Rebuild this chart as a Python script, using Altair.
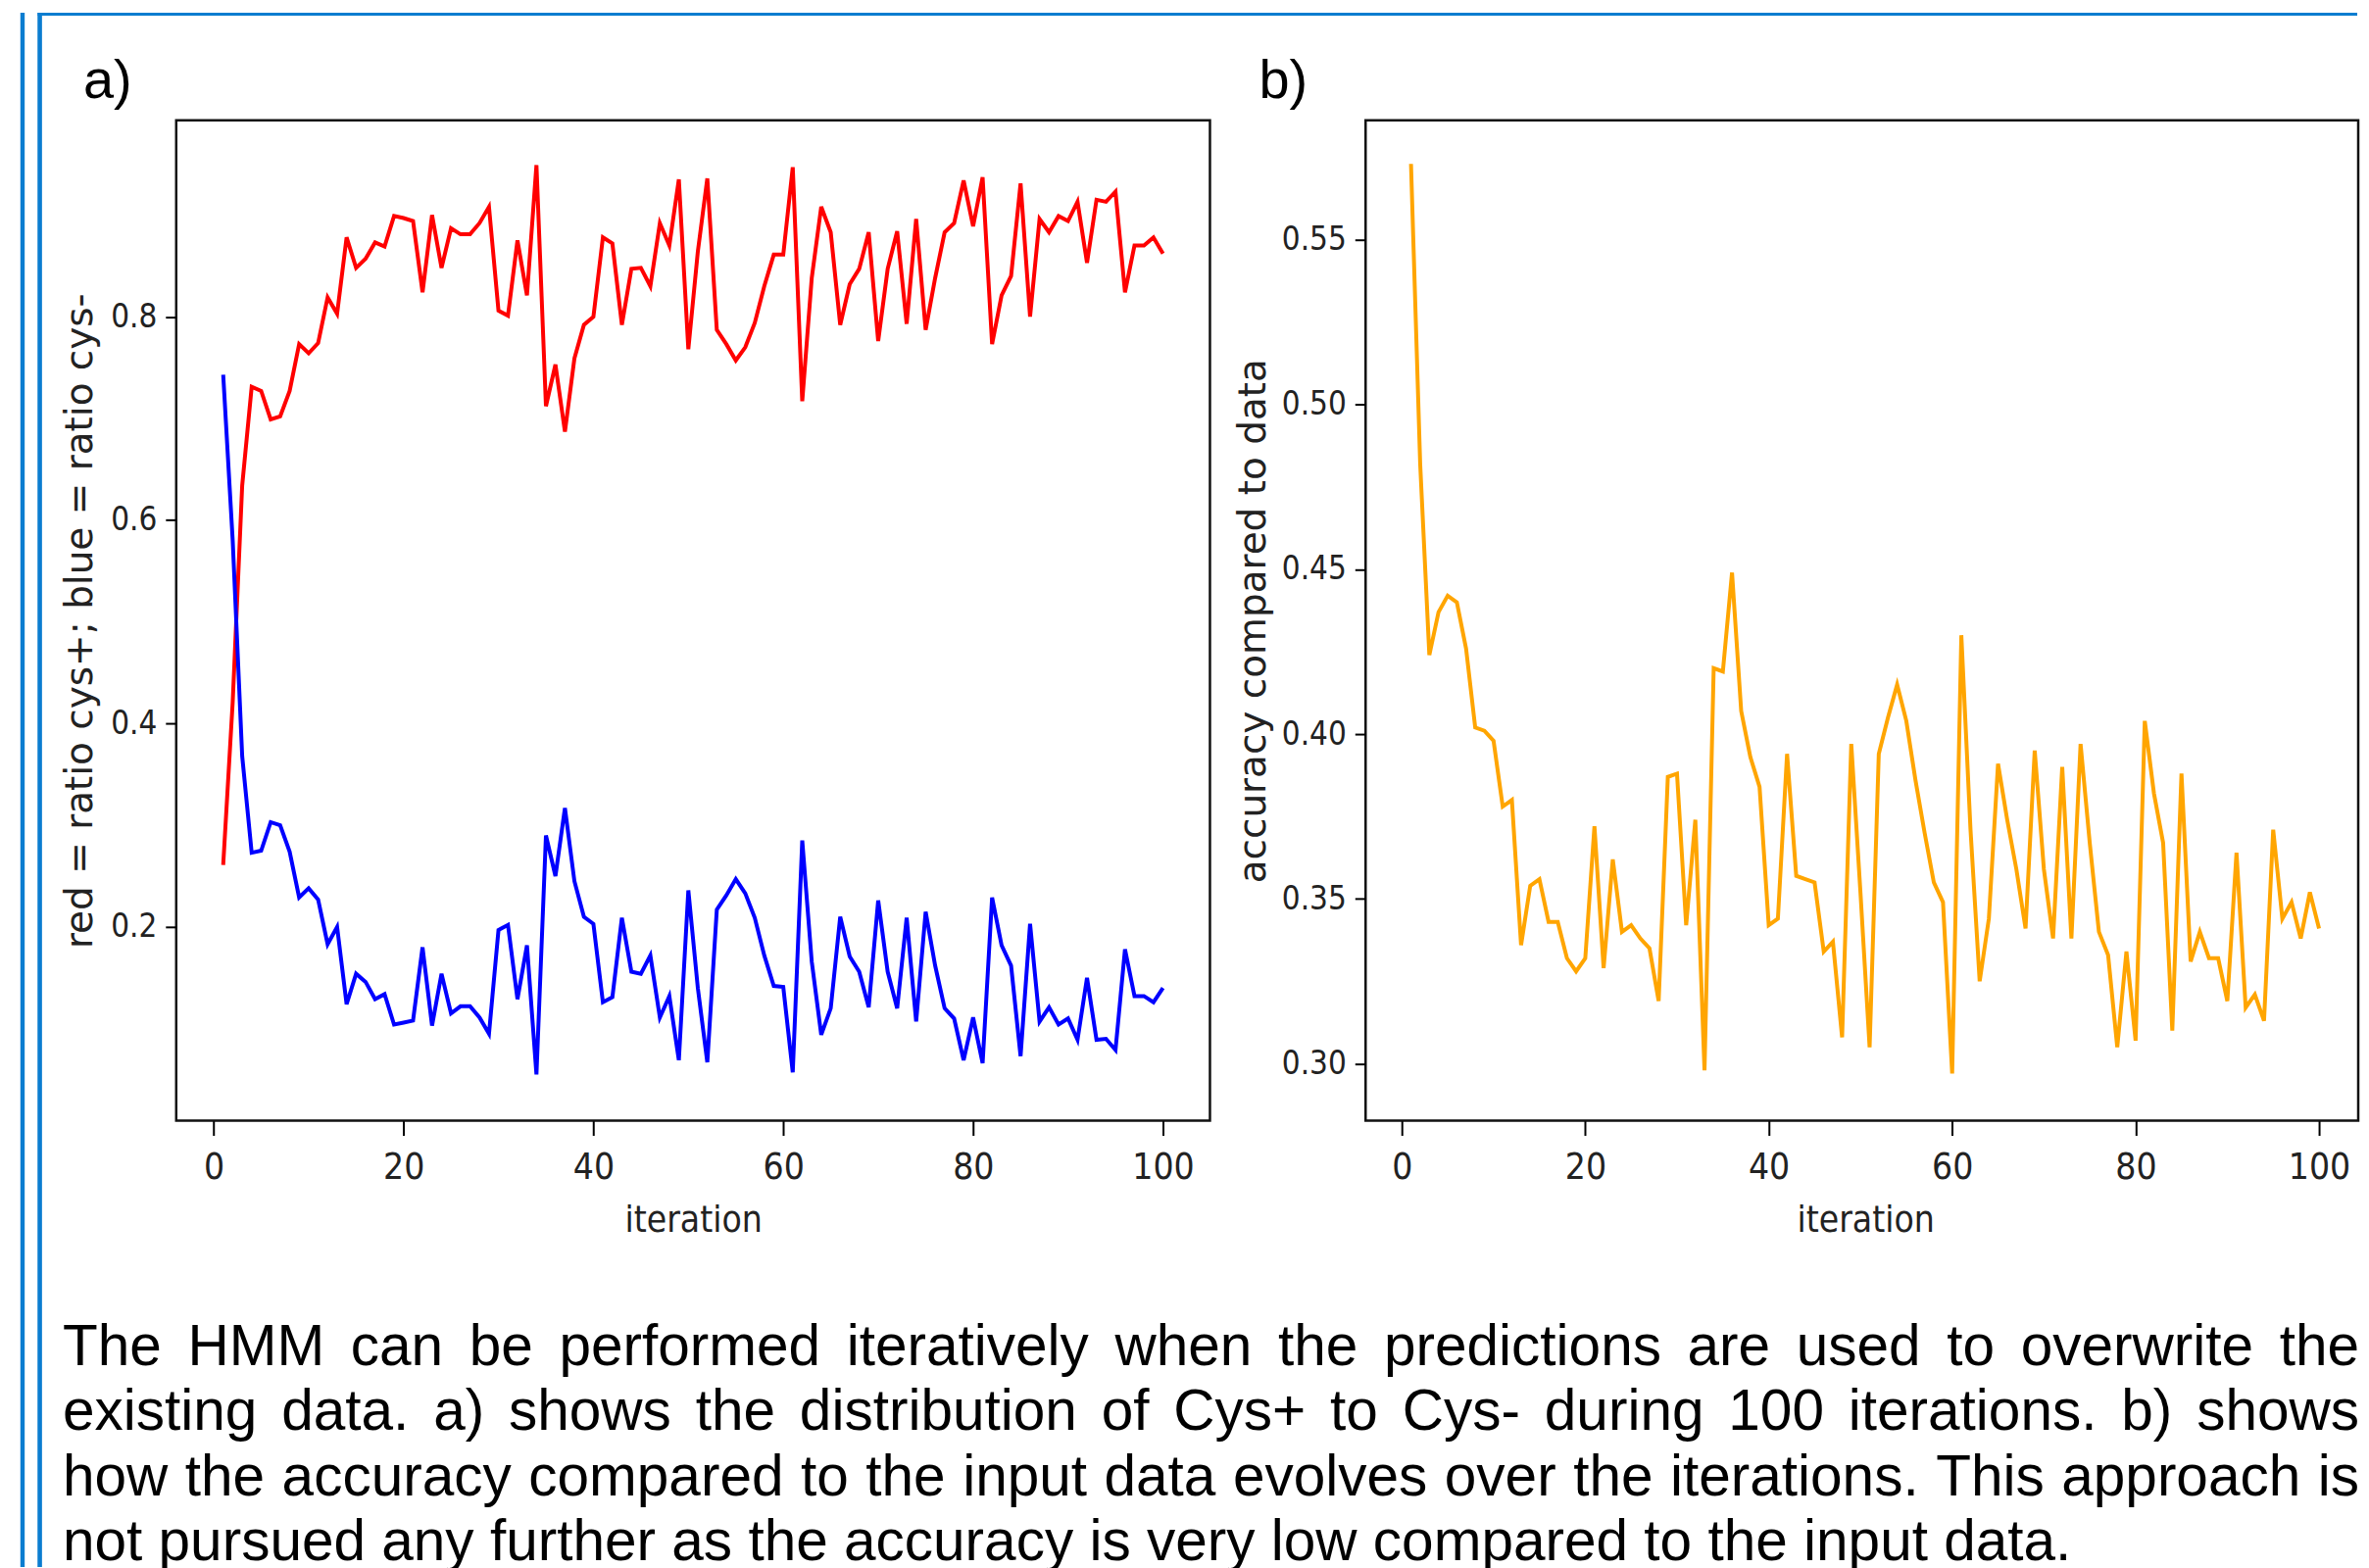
import altair as alt
import pandas as pd

# ---------------- data ----------------
iterations = list(range(1, 101))

red_cys_plus = [
    0.261, 0.421, 0.634, 0.731, 0.727, 0.699, 0.702, 0.727, 0.773, 0.764,
    0.774, 0.819, 0.803, 0.878, 0.848, 0.857, 0.873, 0.869, 0.899, 0.897,
    0.894, 0.824, 0.900, 0.848, 0.887, 0.881, 0.881, 0.892, 0.908, 0.806,
    0.801, 0.875, 0.821, 0.949, 0.712, 0.753, 0.687, 0.759, 0.792, 0.800,
    0.878, 0.872, 0.792, 0.847, 0.848, 0.830, 0.892, 0.870, 0.935, 0.768,
    0.864, 0.936, 0.787, 0.773, 0.757, 0.770, 0.794, 0.830, 0.861, 0.861,
    0.947, 0.717, 0.838, 0.908, 0.883, 0.792, 0.832, 0.847, 0.883, 0.776,
    0.847, 0.884, 0.793, 0.896, 0.787, 0.838, 0.883, 0.892, 0.934, 0.889,
    0.937, 0.773, 0.821, 0.840, 0.931, 0.800, 0.896, 0.883, 0.899, 0.894,
    0.913, 0.853, 0.915, 0.913, 0.923, 0.824, 0.870, 0.870, 0.878, 0.862,
]

blue_cys_minus = [
    0.743, 0.580, 0.368, 0.273, 0.275, 0.303, 0.300, 0.274, 0.229, 0.238,
    0.227, 0.183, 0.200, 0.124, 0.154, 0.146, 0.129, 0.134, 0.104, 0.106,
    0.108, 0.180, 0.103, 0.154, 0.115, 0.122, 0.122, 0.111, 0.095, 0.197,
    0.202, 0.129, 0.182, 0.055, 0.290, 0.250, 0.317, 0.245, 0.210, 0.203,
    0.126, 0.131, 0.209, 0.156, 0.154, 0.172, 0.111, 0.132, 0.069, 0.236,
    0.140, 0.067, 0.217, 0.231, 0.247, 0.233, 0.209, 0.172, 0.142, 0.141,
    0.057, 0.285, 0.166, 0.094, 0.120, 0.210, 0.171, 0.156, 0.121, 0.226,
    0.156, 0.120, 0.209, 0.107, 0.215, 0.162, 0.120, 0.110, 0.069, 0.111,
    0.066, 0.229, 0.182, 0.162, 0.073, 0.203, 0.107, 0.121, 0.104, 0.110,
    0.089, 0.150, 0.089, 0.090, 0.079, 0.178, 0.132, 0.132, 0.126, 0.140,
]

accuracy = [
    0.573, 0.482, 0.424, 0.437, 0.442, 0.440, 0.426, 0.402, 0.401, 0.398,
    0.378, 0.380, 0.336, 0.354, 0.356, 0.343, 0.343, 0.332, 0.328, 0.332,
    0.372, 0.329, 0.362, 0.340, 0.342, 0.338, 0.335, 0.319, 0.387, 0.388,
    0.342, 0.374, 0.298, 0.420, 0.419, 0.449, 0.407, 0.393, 0.384, 0.342,
    0.344, 0.394, 0.357, 0.356, 0.355, 0.334, 0.337, 0.308, 0.397, 0.352,
    0.305, 0.394, 0.405, 0.415, 0.404, 0.386, 0.370, 0.355, 0.349, 0.297,
    0.430, 0.371, 0.325, 0.344, 0.391, 0.374, 0.359, 0.341, 0.395, 0.359,
    0.338, 0.390, 0.338, 0.397, 0.367, 0.340, 0.333, 0.305, 0.334, 0.307,
    0.404, 0.382, 0.367, 0.310, 0.388, 0.331, 0.340, 0.332, 0.332, 0.319,
    0.364, 0.317, 0.321, 0.313, 0.371, 0.344, 0.349, 0.338, 0.352, 0.341,
]

x_ticks = [0, 20, 40, 60, 80, 100]
a_y_ticks = [0.2, 0.4, 0.6, 0.8]
b_y_ticks = [0.30, 0.35, 0.40, 0.45, 0.50, 0.55]

a_y_title = "red = ratio cys+; blue = ratio cys-"
b_y_title = "accuracy compared to data"
x_title = "iteration"
panel_labels = ["a)", "b)"]

caption_lines = [
    "The HMM can be performed iteratively when the predictions are used to overwrite the",
    "existing data. a) shows the distribution of Cys+ to Cys- during 100 iterations. b) shows",
    "how the accuracy compared to the input data evolves over the iterations. This approach is",
    "not pursued any further as the accuracy is very low compared to the input data.",
]

# ---------------- layout / style ----------------
A_W, A_H = 1056, 1022
B_W, B_H = 1014, 1022
GAP = 159
A_X_DOMAIN = [-3.95, 104.95]
B_X_DOMAIN = [-3.95, 104.27]
A_Y_DOMAIN = [0.0095, 0.993]
B_Y_DOMAIN = [0.2827, 0.5862]
COND = "DejaVu Sans Condensed, DejaVu Sans"
FRAME_BLUE = "#0b7dd0"
CAP_FONT = "Liberation Sans, Arial"
CAP_SIZE = 58.6
CAP_X0 = -116          # relative to chart a plot origin
CAP_W = 2346
CAP_Y0 = 1271.5        # baseline of first caption line
CAP_DY = 66.5
LINE_W = 4

# Arial / Liberation Sans advance widths (1/1000 em) for caption justification
ARIAL = {" ": 278, ".": 278, ")": 333, "(": 333, "+": 584, "-": 333,
         "a": 556, "b": 556, "c": 500, "d": 556, "e": 556, "f": 278, "g": 556,
         "h": 556, "i": 222, "j": 222, "k": 500, "l": 222, "m": 833, "n": 556,
         "o": 556, "p": 556, "q": 556, "r": 333, "s": 500, "t": 278, "u": 556,
         "v": 500, "w": 722, "x": 500, "y": 500, "z": 500,
         "T": 611, "H": 722, "M": 833, "C": 722}
for d in "0123456789":
    ARIAL[d] = 556


def tw(s):
    return sum(ARIAL.get(c, 556) for c in s) / 1000.0 * CAP_SIZE


cap_rows = []
for li, line in enumerate(caption_lines):
    words = line.split(" ")
    yb = CAP_Y0 + li * CAP_DY
    if li < len(caption_lines) - 1:
        gap = (CAP_W - sum(tw(w) for w in words)) / (len(words) - 1)
    else:
        gap = tw(" ")
    xc = CAP_X0
    for w in words:
        cap_rows.append({"word": w, "px": xc, "py": yb})
        xc += tw(w) + gap
cap_df = pd.DataFrame(cap_rows)

one = pd.DataFrame({"k": [0]})


def x_axis(w):
    return alt.Axis(values=x_ticks, title=x_title, grid=False, domain=False,
                    tickSize=15, tickWidth=2, tickColor="#000",
                    labelFont=COND, labelFontSize=37, labelColor="#222",
                    labelPadding=15, labelFlush=False,
                    titleFont=COND, titleFontSize=37, titleFontWeight="normal",
                    titleColor="#222", titleX=w / 2, titleY=113,
                    titleAlign="center", titleBaseline="alphabetic")


def y_axis(values, fmt, title, tx, h):
    return alt.Axis(values=values, format=fmt, title=title, grid=False, domain=False,
                    tickSize=11, tickWidth=2, tickColor="#000",
                    labelFont=COND, labelFontSize=33, labelColor="#222",
                    labelPadding=9, labelFlush=False,
                    titleFont="DejaVu Sans", titleFontSize=39, titleFontWeight="normal",
                    titleColor="#222", titleAngle=270, titleX=tx, titleY=h / 2,
                    titleAlign="center", titleBaseline="middle")


# ---------------- chart a ----------------
df_a = pd.DataFrame({
    "iteration": iterations * 2,
    "ratio": red_cys_plus + blue_cys_minus,
    "series": ["cys+"] * 100 + ["cys-"] * 100,
})

lines_a = alt.Chart(df_a).mark_line(strokeWidth=LINE_W).encode(
    x=alt.X("iteration:Q", scale=alt.Scale(domain=A_X_DOMAIN, nice=False, zero=False),
            axis=x_axis(A_W)),
    y=alt.Y("ratio:Q", scale=alt.Scale(domain=A_Y_DOMAIN, nice=False, zero=False),
            axis=y_axis(a_y_ticks, ".1f", a_y_title, -98, A_H)),
    color=alt.Color("series:N", scale=alt.Scale(domain=["cys+", "cys-"],
                                                range=["#ff0000", "#0000ff"]),
                    legend=None),
    detail="series:N",
)

label_a = alt.Chart(one).mark_text(text=panel_labels[0], font=CAP_FONT, fontSize=56,
                                   align="left", baseline="alphabetic", color="#000").encode(
    x=alt.value(-95), y=alt.value(-23))

# poster frame lines (decoration)
vline_outer = alt.Chart(one).mark_rule(color=FRAME_BLUE, strokeWidth=4.4).encode(
    x=alt.value(-157), y=alt.value(-110), y2=alt.value(1478))
vline_inner = alt.Chart(one).mark_rule(color=FRAME_BLUE, strokeWidth=4.6).encode(
    x=alt.value(-139.4), y=alt.value(-110), y2=alt.value(1478))
hline_top = alt.Chart(one).mark_rule(color=FRAME_BLUE, strokeWidth=3).encode(
    y=alt.value(-108.5), x=alt.value(-141.5), x2=alt.value(2228))

caption = alt.Chart(cap_df).mark_text(font=CAP_FONT, fontSize=CAP_SIZE, align="left",
                                      baseline="alphabetic", color="#000").encode(
    x=alt.X("px:Q", scale=None, axis=None),
    y=alt.Y("py:Q", scale=None, axis=None),
    text="word:N",
)

chart_a = alt.layer(lines_a, label_a, vline_outer, vline_inner, hline_top, caption).properties(
    width=A_W, height=A_H)

# ---------------- chart b ----------------
df_b = pd.DataFrame({"iteration": iterations, "accuracy": accuracy})

line_b = alt.Chart(df_b).mark_line(strokeWidth=LINE_W, color="#ffa500").encode(
    x=alt.X("iteration:Q", scale=alt.Scale(domain=B_X_DOMAIN, nice=False, zero=False),
            axis=x_axis(B_W + 7)),
    y=alt.Y("accuracy:Q", scale=alt.Scale(domain=B_Y_DOMAIN, nice=False, zero=False),
            axis=y_axis(b_y_ticks, ".2f", b_y_title, -115, B_H)),
)

label_b = alt.Chart(one).mark_text(text=panel_labels[1], font=CAP_FONT, fontSize=56,
                                   align="left", baseline="alphabetic", color="#000").encode(
    x=alt.value(-109), y=alt.value(-23))

chart_b = alt.layer(line_b, label_b).properties(width=B_W, height=B_H)

chart = alt.hconcat(chart_a, chart_b, spacing=GAP, bounds="flush").properties(
    padding={"left": 11, "top": 0, "right": 0, "bottom": 0},
    background="white",
).configure_view(stroke="#111", strokeWidth=2.5)

chart.save("out.html", embed_options={"renderer": "svg", "actions": False})
